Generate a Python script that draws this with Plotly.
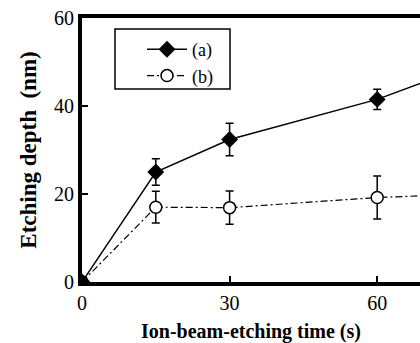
import plotly.graph_objects as go

# Etching time (s) and measured depths (nm)
time_s = [0, 15, 30, 60, 90]
depth_a = [0, 25.0, 32.4, 41.5, 54.0]
err_a = [0, 3.0, 3.7, 2.3, 2.5]
depth_b = [0, 17.0, 16.9, 19.2, 20.5]
err_b = [0, 3.6, 3.8, 4.9, 4.0]

x_ticks = [0, 30, 60]
y_ticks = [0, 20, 40, 60]

serif = "Liberation Serif, Times New Roman, serif"

fig = go.Figure()

fig.add_trace(go.Scatter(
    x=time_s, y=depth_a, name="(a)", mode="lines+markers",
    line=dict(color="black", width=1.5),
    marker=dict(symbol="diamond", size=13, color="black"),
    error_y=dict(type="data", array=err_a, color="black", thickness=1.5, width=4),
))

fig.add_trace(go.Scatter(
    x=time_s, y=depth_b, name="(b)", mode="lines+markers",
    line=dict(color="black", width=1.2, dash="7px,3px,2px,3px"),
    marker=dict(symbol="circle", size=12, color="white",
                line=dict(color="black", width=1.5)),
    error_y=dict(type="data", array=err_b, color="black", thickness=1.5, width=4),
))

# Shared starting point of both series, drawn as a solid dot
fig.add_trace(go.Scatter(
    x=[time_s[0]], y=[depth_b[0]], mode="markers", showlegend=False,
    marker=dict(symbol="circle", size=13, color="black"),
    hoverinfo="skip",
))

# Legend frame
fig.add_shape(type="rect", xref="paper", yref="paper",
              x0=(115 - 82) / 338, x1=(230 - 82) / 338,
              y0=(282 - 89) / 264, y1=(282 - 29) / 264,
              line=dict(color="black", width=1.5), fillcolor="white", layer="below")

fig.update_layout(
    width=420, height=343,
    margin=dict(l=82, r=0, t=18, b=61),
    paper_bgcolor="white", plot_bgcolor="white",
    font=dict(family=serif, size=16, color="black"),
    showlegend=True,
    legend=dict(
        x=(142 - 82) / 338, y=(282 - 31) / 264, xanchor="left", yanchor="top",
        borderwidth=0, bgcolor="rgba(0,0,0,0)",
        font=dict(family=serif, size=18, color="black"),
        tracegroupgap=0, itemwidth=40,
    ),
)

fig.update_xaxes(
    range=[0, 68.7], tickvals=x_ticks, ticktext=[str(v) for v in x_ticks],
    showgrid=False, zeroline=False,
    showline=True, linecolor="black", linewidth=4, mirror=True,
    ticks="inside", ticklen=6, tickwidth=2, tickcolor="black",
    tickfont=dict(family=serif, size=20),
    title=dict(text="<b>Ion-beam-etching time (s)</b>", standoff=15,
               font=dict(family=serif, size=20)),
)

fig.update_yaxes(
    range=[0, 60], tickvals=y_ticks, ticktext=[str(v) for v in y_ticks],
    showgrid=False, zeroline=False,
    showline=True, linecolor="black", linewidth=4, mirror=False,
    ticks="inside", ticklen=6, tickwidth=2, tickcolor="black",
    tickfont=dict(family=serif, size=20),
    title=dict(text="<b>Etching depth  (nm)</b>", standoff=12,
               font=dict(family=serif, size=23)),
)

fig.write_html("out.html")
